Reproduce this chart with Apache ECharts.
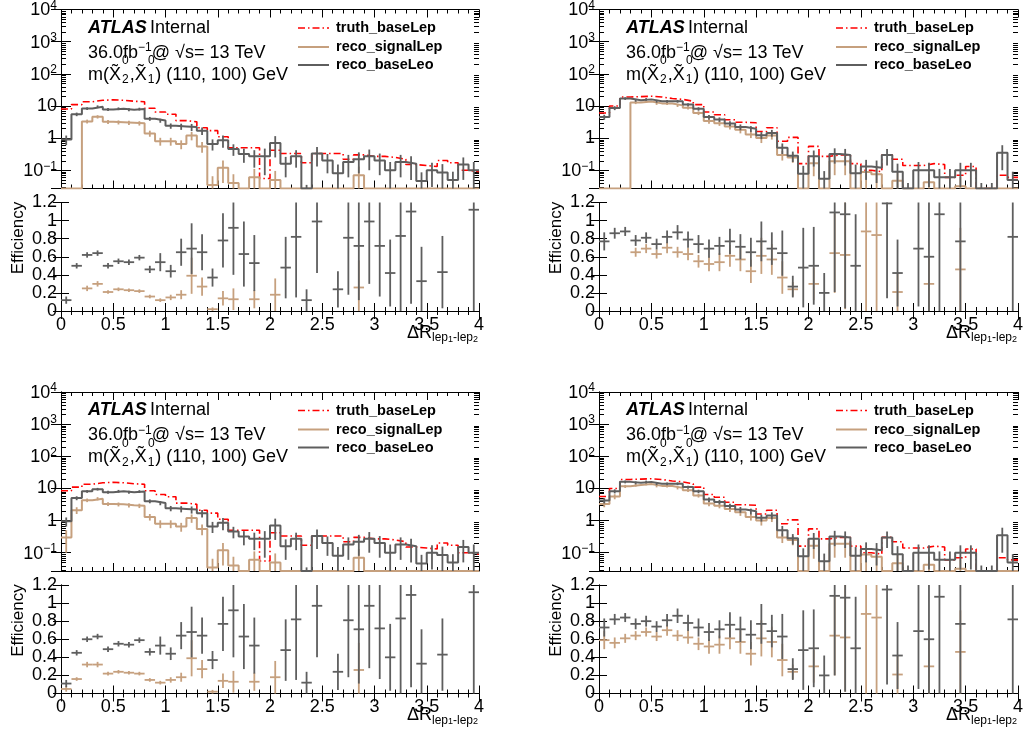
<!DOCTYPE html>
<html>
<head>
<meta charset="utf-8">
<script src="https://cdn.jsdelivr.net/npm/echarts@6/dist/echarts.min.js"></script>
<style>
  html, body { margin: 0; padding: 0; background: #ffffff; }
  #chart { width: 1023px; height: 741px; }
</style>
</head>
<body>
<div id="chart"></div>
<script>
// ---- binning: 40 bins of width 0.1 in dR(lep1, lep2) ----
const binEdges = [0, 0.1, 0.2, 0.3, 0.4, 0.5, 0.6, 0.7, 0.8, 0.9, 1, 1.1, 1.2, 1.3, 1.4, 1.5, 1.6, 1.7, 1.8, 1.9,
                  2, 2.1, 2.2, 2.3, 2.4, 2.5, 2.6, 2.7, 2.8, 2.9, 3, 3.1, 3.2, 3.3, 3.4, 3.5, 3.6, 3.7, 3.8, 3.9, 4];

const seriesNames = ['truth_baseLep', 'reco_signalLep', 'reco_baseLeo'];

// ---- panel A (top left) ----
const truthA = [8, 11, 13.5, 15, 15.5, 15, 14, 13.5, 8.5, 6.5, 5.5, 3.5, 3.2, 2.1, 1.7, 1.1, 0.5, 0.5, 0.5, 0.055,
                0.42, 0.33, 0.33, 0.17, 0.33, 0.33, 0.33, 0.22, 0.3, 0.27, 0.27, 0.25, 0.22, 0.15, 0.14, 0.13, 0.2, 0.17, 0.1, 0.09];
const sigA = [0, 0, 3.3, 4.6, 3.2, 3.1, 3, 2.9, 1.4, 0.8, 0.8, 0.65, 1.2, 0.55, 0.035, 0.12, 0.04, 0, 0.06, 0,
              0.05, 0, 0, 0, 0, 0, 0, 0, 0.07, 0, 0, 0, 0, 0, 0, 0, 0, 0, 0, 0];
const sigErrA = [0, 0, 0.45, 0.55, 0.45, 0.45, 0.45, 0.45, 0.3, 0.22, 0.22, 0.2, 0.35, 0.2, 0.03, 0.08, 0.035, 0, 0.05, 0,
                 0.045, 0, 0, 0, 0, 0, 0, 0, 0.06, 0, 0, 0, 0, 0, 0, 0, 0, 0, 0, 0];
const baseA = [0.9, 5.5, 8.3, 9.5, 7.8, 8.2, 7.6, 8, 4, 3.5, 2.4, 2.3, 2.2, 1.7, 0.66, 0.85, 0.46, 0.32, 0.27, 0.27,
               0.7, 0.16, 0.27, 0.02, 0.33, 0.2, 0.08, 0.18, 0.22, 0.27, 0.2, 0.1, 0.18, 0.16, 0.046, 0.1, 0.085, 0.05, 0.15, 0.1];
const baseErrA = [0.3, 0.7, 0.8, 0.9, 0.8, 0.8, 0.8, 0.8, 0.55, 0.5, 0.45, 0.5, 0.55, 0.45, 0.25, 0.35, 0.18, 0.15, 0.15, 0.2,
                  0.45, 0.1, 0.15, 0.015, 0.2, 0.12, 0.07, 0.12, 0.14, 0.17, 0.13, 0.08, 0.12, 0.11, 0.04, 0.07, 0.07, 0.04, 0.1, 0.08];
const effSigA = [null, null, 0.25, 0.3, 0.21, 0.24, 0.23, 0.22, 0.16, 0.12, 0.15, 0.18, 0.39, 0.27, 0.02, 0.14, 0.13, null, 0.13, null,
                 0.18, null, null, null, null, null, null, null, 0.26, null, null, null, null, null, null, null, null, null, null, null];
const effSigErrA = [0, 0, 0.03, 0.03, 0.02, 0.02, 0.02, 0.02, 0.02, 0.02, 0.03, 0.05, 0.2, 0.1, 0.02, 0.08, 0.12, 0, 0.1, 0,
                    0.18, 0, 0, 0, 0, 0, 0, 0, 0.3, 0, 0, 0, 0, 0, 0, 0, 0, 0, 0, 0];
const effBaseA = [0.12, 0.5, 0.62, 0.64, 0.5, 0.55, 0.54, 0.59, 0.46, 0.54, 0.44, 0.65, 0.69, 0.65, 0.37, 0.78, 0.92, 0.63, 0.53, null,
                  null, 0.48, 0.82, 0.12, 0.99, null, 0.24, 0.81, 0.72, 0.99, 0.72, 0.42, 0.83, 1.1, 0.33, null, 0.43, null, null, 1.12];
const effBaseErrA = [0.04, 0.03, 0.03, 0.03, 0.03, 0.03, 0.03, 0.03, 0.04, 0.1, 0.07, 0.15, 0.28, 0.2, 0.1, 0.3, 0.52, 0.36, 0.31, 0,
                     0, 0.34, 0.67, 0.12, 0.57, 0, 0.2, 0.63, 0.6, 0.69, 0.56, 0.37, 0.83, 1.02, 0.38, 0, 0.4, 0, 0, 1.12];

// ---- panel B (top right) ----
const truthB = [6, 10, 19, 19.5, 20, 19, 17, 16, 14, 11, 6.5, 5.3, 3.7, 3.1, 3, 1.6, 2.1, 0.8, 1.05, 0.16,
                0.55, 0.27, 0.3, 0.3, 0.16, 0.1, 0.09, 0.3, 0.22, 0.14, 0.14, 0.16, 0.15, 0.06, 0.07, 0.13, 0.025, 0.025, 0.07, 0.06];
const sigB = [0, 0, 0, 12.7, 13.8, 12, 11.9, 10.4, 8.8, 6, 3.4, 2.9, 2.3, 1.8, 1.3, 1, 1.2, 0.3, 0.25, 0,
              0.165, 0, 0.19, 0.19, 0, 0.088, 0.075, 0, 0.047, 0, 0, 0.042, 0, 0, 0.032, 0, 0, 0, 0, 0];
const sigErrB = [0, 0, 0, 1.3, 1.3, 1.2, 1.2, 1.1, 1, 0.8, 0.6, 0.5, 0.45, 0.4, 0.3, 0.3, 0.3, 0.1, 0.08, 0,
                 0.1, 0, 0.12, 0.12, 0, 0.07, 0.06, 0, 0.04, 0, 0, 0.035, 0, 0, 0.03, 0, 0, 0, 0, 0];
const baseB = [4.5, 8.6, 17, 15, 16, 14, 14, 14, 11, 8.1, 4.5, 3.8, 2.85, 2.2, 1.95, 1.23, 1.45, 0.5, 0.28, 0.077,
               0.27, 0.054, 0.32, 0.3, 0.08, 0.13, 0.12, 0.3, 0.09, 0.02, 0.1, 0.1, 0.06, 0.06, 0.1, 0.1, 0.02, 0.02, 0.35, 0.05];
const baseErrB = [0.8, 1.2, 1.6, 1.5, 1.5, 1.4, 1.4, 1.4, 1.2, 1, 0.7, 0.6, 0.5, 0.45, 0.4, 0.3, 0.35, 0.18, 0.1, 0.06,
                  0.14, 0.04, 0.16, 0.16, 0.07, 0.08, 0.08, 0.16, 0.07, 0.02, 0.08, 0.07, 0.05, 0.05, 0.07, 0.07, 0.02, 0.02, 0.25, 0.04];
const effSigB = [null, null, null, 0.65, 0.69, 0.63, 0.7, 0.65, 0.63, 0.55, 0.52, 0.54, 0.61, 0.57, 0.44, 0.61, 0.57, 0.37, 0.24, null,
                 0.3, null, 0.64, 0.62, null, 0.88, 0.84, null, 0.21, null, null, 0.3, null, null, 0.46, null, null, null, null, null];
const effSigErrB = [0, 0, 0, 0.05, 0.05, 0.05, 0.06, 0.06, 0.07, 0.07, 0.08, 0.1, 0.12, 0.13, 0.13, 0.2, 0.17, 0.18, 0.08, 0,
                    0.18, 0, 0.44, 0.6, 0, 0.9, 0.9, 0, 0.21, 0, 0, 0.3, 0, 0, 0.46, 0, 0, 0, 0, 0];
const effBaseB = [0.77, 0.86, 0.88, 0.78, 0.81, 0.74, 0.82, 0.87, 0.79, 0.74, 0.69, 0.72, 0.77, 0.71, 0.65, 0.77, 0.69, 0.64, 0.27, 0.48,
                  0.5, 0.2, 1.09, 1.07, 0.5, null, null, 1.19, 0.42, null, 0.69, 0.6, 1.07, null, 0.77, null, null, null, null, 0.82];
const effBaseErrB = [0.1, 0.06, 0.05, 0.06, 0.06, 0.06, 0.07, 0.08, 0.09, 0.1, 0.1, 0.1, 0.14, 0.14, 0.16, 0.22, 0.18, 0.25, 0.12, 0.44,
                     0.43, 0.22, 0.88, 1.04, 0.57, 0, 0, 1.05, 0.37, 0, 0.64, 0.6, 1.07, 0, 0.8, 0, 0, 0, 0, 0.82];

// ---- panel C (bottom left) ----
const truthC = [8.5, 11, 13.5, 15, 15.5, 15, 14, 13.5, 8.5, 6.5, 5.5, 3.5, 3.2, 2.1, 1.7, 1.1, 0.5, 0.5, 0.5, 0.055,
                0.42, 0.33, 0.33, 0.17, 0.33, 0.33, 0.33, 0.22, 0.3, 0.27, 0.27, 0.25, 0.22, 0.15, 0.14, 0.13, 0.2, 0.17, 0.1, 0.09];
const sigC = [0.3, 2.1, 4.3, 4.8, 3.3, 3.2, 3, 2.9, 1.3, 0.8, 0.8, 0.65, 1.2, 0.55, 0.035, 0.12, 0.04, 0, 0.06, 0,
              0.05, 0, 0, 0, 0, 0, 0, 0, 0.07, 0, 0, 0, 0, 0, 0, 0, 0, 0, 0, 0];
const sigErrC = [0.2, 0.5, 0.55, 0.55, 0.45, 0.45, 0.45, 0.45, 0.3, 0.22, 0.22, 0.2, 0.35, 0.2, 0.03, 0.08, 0.035, 0, 0.05, 0,
                 0.045, 0, 0, 0, 0, 0, 0, 0, 0.06, 0, 0, 0, 0, 0, 0, 0, 0, 0, 0, 0];
const baseC = [0.95, 5, 8.1, 9.5, 7.6, 8.2, 7.6, 8, 4, 3.5, 2.4, 2.3, 2.2, 1.7, 0.66, 0.85, 0.46, 0.32, 0.27, 0.27,
               0.7, 0.16, 0.27, 0.02, 0.33, 0.2, 0.08, 0.18, 0.22, 0.27, 0.2, 0.1, 0.18, 0.16, 0.046, 0.1, 0.085, 0.05, 0.15, 0.1];
const baseErrC = [0.3, 0.7, 0.8, 0.9, 0.8, 0.8, 0.8, 0.8, 0.55, 0.5, 0.45, 0.5, 0.55, 0.45, 0.25, 0.35, 0.18, 0.15, 0.15, 0.2,
                  0.45, 0.1, 0.15, 0.015, 0.2, 0.12, 0.07, 0.12, 0.14, 0.17, 0.13, 0.08, 0.12, 0.11, 0.04, 0.07, 0.07, 0.04, 0.1, 0.08];
const effSigC = [0.05, 0.16, 0.32, 0.32, 0.22, 0.24, 0.23, 0.22, 0.15, 0.12, 0.15, 0.18, 0.39, 0.27, 0.02, 0.14, 0.13, null, 0.13, null,
                 0.18, null, null, null, null, null, null, null, 0.26, null, null, null, null, null, null, null, null, null, null, null];
const effSigErrC = [0.03, 0.02, 0.03, 0.03, 0.02, 0.02, 0.02, 0.02, 0.02, 0.02, 0.03, 0.05, 0.2, 0.1, 0.02, 0.08, 0.12, 0, 0.1, 0,
                    0.18, 0, 0, 0, 0, 0, 0, 0, 0.3, 0, 0, 0, 0, 0, 0, 0, 0, 0, 0, 0];
const effBaseC = [0.11, 0.45, 0.6, 0.63, 0.49, 0.55, 0.54, 0.59, 0.46, 0.53, 0.44, 0.64, 0.68, 0.64, 0.37, 0.77, 0.92, 0.63, 0.53, null,
                  null, 0.48, 0.82, 0.12, 0.97, null, 0.24, 0.81, 0.71, 0.97, 0.72, 0.4, 0.83, 1.09, 0.33, null, 0.43, null, null, 1.12];
const effBaseErrC = [0.04, 0.03, 0.03, 0.03, 0.03, 0.03, 0.03, 0.03, 0.04, 0.1, 0.07, 0.15, 0.28, 0.2, 0.1, 0.3, 0.52, 0.36, 0.31, 0,
                     0, 0.34, 0.67, 0.12, 0.57, 0, 0.2, 0.63, 0.6, 0.69, 0.56, 0.37, 0.83, 1.02, 0.38, 0, 0.4, 0, 0, 1.12];

// ---- panel D (bottom right) ----
const truthD = [5.6, 10, 19, 19.5, 20, 19, 17, 16, 14, 11, 6.5, 5.3, 3.7, 3.1, 3, 1.6, 2.1, 0.8, 1.05, 0.16,
                0.55, 0.27, 0.3, 0.3, 0.16, 0.1, 0.09, 0.3, 0.22, 0.14, 0.14, 0.16, 0.15, 0.06, 0.07, 0.13, 0.025, 0.025, 0.07, 0.06];
const sigD = [3.3, 5.6, 11.6, 12.7, 13.8, 12, 11.9, 10.4, 8.8, 6, 3.4, 2.9, 2.3, 1.8, 1.3, 1, 1.2, 0.3, 0.25, 0,
              0.165, 0, 0.19, 0.19, 0, 0.088, 0.075, 0, 0.047, 0, 0, 0.042, 0, 0, 0.032, 0, 0, 0, 0, 0];
const sigErrD = [0.7, 1, 1.3, 1.3, 1.3, 1.2, 1.2, 1.1, 1, 0.8, 0.6, 0.5, 0.45, 0.4, 0.3, 0.3, 0.3, 0.1, 0.08, 0,
                 0.1, 0, 0.12, 0.12, 0, 0.07, 0.06, 0, 0.04, 0, 0, 0.035, 0, 0, 0.03, 0, 0, 0, 0, 0];
const baseD = [4.2, 8.2, 16, 15, 16, 14, 14, 14, 11, 8.1, 4.5, 3.8, 2.85, 2.2, 1.95, 1.23, 1.45, 0.5, 0.28, 0.077,
               0.27, 0.054, 0.32, 0.3, 0.08, 0.13, 0.12, 0.3, 0.09, 0.02, 0.1, 0.1, 0.06, 0.06, 0.1, 0.1, 0.02, 0.02, 0.35, 0.05];
const baseErrD = [0.8, 1.2, 1.6, 1.5, 1.5, 1.4, 1.4, 1.4, 1.2, 1, 0.7, 0.6, 0.5, 0.45, 0.4, 0.3, 0.35, 0.18, 0.1, 0.06,
                  0.14, 0.04, 0.16, 0.16, 0.07, 0.08, 0.08, 0.16, 0.07, 0.02, 0.08, 0.07, 0.05, 0.05, 0.07, 0.07, 0.02, 0.02, 0.25, 0.04];
const effSigD = [0.59, 0.56, 0.61, 0.64, 0.68, 0.63, 0.7, 0.64, 0.62, 0.55, 0.52, 0.54, 0.61, 0.57, 0.44, 0.61, 0.57, 0.37, 0.24, null,
                 0.3, null, 0.64, 0.62, null, 0.88, 0.84, null, 0.21, null, null, 0.3, null, null, 0.46, null, null, null, null, null];
const effSigErrD = [0.1, 0.06, 0.05, 0.05, 0.05, 0.05, 0.06, 0.06, 0.07, 0.07, 0.08, 0.1, 0.12, 0.13, 0.13, 0.2, 0.17, 0.18, 0.08, 0,
                    0.18, 0, 0.44, 0.6, 0, 0.9, 0.9, 0, 0.21, 0, 0, 0.3, 0, 0, 0.46, 0, 0, 0, 0, 0];
const effBaseD = [0.73, 0.82, 0.84, 0.77, 0.8, 0.74, 0.81, 0.86, 0.78, 0.73, 0.68, 0.71, 0.76, 0.71, 0.65, 0.77, 0.69, 0.63, 0.27, 0.48,
                  0.5, 0.2, 1.08, 1.06, 0.5, null, null, 1.15, 0.42, null, 0.69, 0.6, 1.07, null, 0.77, null, null, null, null, 0.82];
const effBaseErrD = [0.1, 0.06, 0.05, 0.06, 0.06, 0.06, 0.07, 0.08, 0.09, 0.1, 0.1, 0.1, 0.14, 0.14, 0.16, 0.22, 0.18, 0.25, 0.12, 0.44,
                     0.43, 0.22, 0.88, 1.04, 0.57, 0, 0, 1.05, 0.37, 0, 0.64, 0.6, 1.07, 0, 0.8, 0, 0, 0, 0, 0.82];

// ---- axis decoration ----
const logDecades = [0.01, 0.1, 1, 10, 100, 1000];
const logMinorSteps = [2, 3, 4, 5, 6, 7, 8, 9];

// ---- styling ----
const FONT = '"Liberation Sans", Arial, Helvetica, sans-serif';
const RED = '#ff0000';
const TAN = '#c6a07e';
const GREY = '#5e5e5e';
const Y_MIN = 0.027, Y_MAX = 10000;

const panels = [
  { col: 0, row: 0, truth: truthA, sig: sigA, sigErr: sigErrA, base: baseA, baseErr: baseErrA,
    effSig: effSigA, effSigErr: effSigErrA, effBase: effBaseA, effBaseErr: effBaseErrA },
  { col: 1, row: 0, truth: truthB, sig: sigB, sigErr: sigErrB, base: baseB, baseErr: baseErrB,
    effSig: effSigB, effSigErr: effSigErrB, effBase: effBaseB, effBaseErr: effBaseErrB },
  { col: 0, row: 1, truth: truthC, sig: sigC, sigErr: sigErrC, base: baseC, baseErr: baseErrC,
    effSig: effSigC, effSigErr: effSigErrC, effBase: effBaseC, effBaseErr: effBaseErrC },
  { col: 1, row: 1, truth: truthD, sig: sigD, sigErr: sigErrD, base: baseD, baseErr: baseErrD,
    effSig: effSigD, effSigErr: effSigErrD, effBase: effBaseD, effBaseErr: effBaseErrD }
];

// frame geometry of the pads
const colLeft = [61, 599];
const colWidth = [418, 419];
const histTop = [9.5, 392];
const histHeight = 179;
const effTop = [202.5, 585];
const effHeight = 108.5;

const binCentres = binEdges.slice(0, -1).map((e, i) => (e + binEdges[i + 1]) / 2);
const halfBin = (binEdges[1] - binEdges[0]) / 2;

const logMinorTicks = [];
logDecades.forEach(d => logMinorSteps.forEach(k => {
  const v = d * k;
  if (v > Y_MIN && v < Y_MAX) logMinorTicks.push([0, v]);
}));

const floorLog = v => (v > Y_MIN ? v : Y_MIN);

function stepData(vals) {
  return binEdges.map((x, i) => [x, floorLog(vals[Math.min(i, vals.length - 1)])]);
}

function powLabel(v) {
  const n = Math.round(Math.log10(v));
  if (n === 0) return '1';
  if (n === 1) return '10';
  return '{b|10}{sup|' + (n < 0 ? '\u2212' + (-n) : n) + '}';
}

function clampY(cs, y) { return Math.max(cs.y, Math.min(cs.y + cs.height, y)); }

// vertical error bars on a log-scale histogram
function histErrRenderer(color) {
  return function (params, api) {
    const x = api.value(0), v = api.value(1), e = api.value(2);
    const cs = params.coordSys;
    const hi = api.coord([x, floorLog(v + e)]);
    const lo = api.coord([x, floorLog(v - e)]);
    return {
      type: 'line',
      shape: { x1: hi[0], y1: clampY(cs, hi[1]), x2: hi[0], y2: clampY(cs, lo[1]) },
      style: { stroke: color, lineWidth: 1.8 }
    };
  };
}

// efficiency points: bin-width horizontal bar + vertical uncertainty
function crossRenderer(color) {
  return function (params, api) {
    const x = api.value(0), v = api.value(1), e = api.value(2);
    const cs = params.coordSys;
    const c = api.coord([x, v]);
    const l = api.coord([x - halfBin, v]);
    const r = api.coord([x + halfBin, v]);
    const u = api.coord([x, v + e]);
    const d = api.coord([x, v - e]);
    const kids = [];
    if (c[1] >= cs.y - 0.5 && c[1] <= cs.y + cs.height + 0.5) {
      kids.push({ type: 'line', shape: { x1: l[0], y1: c[1], x2: r[0], y2: c[1] },
                  style: { stroke: color, lineWidth: 1.8 } });
    }
    if (e > 0) {
      kids.push({ type: 'line', shape: { x1: c[0], y1: clampY(cs, u[1]), x2: c[0], y2: clampY(cs, d[1]) },
                  style: { stroke: color, lineWidth: 1.8 } });
    }
    return { type: 'group', children: kids };
  };
}

// short minor ticks of the log axis on both frame sides
function logMinorRenderer(params, api) {
  const cs = params.coordSys;
  const p = api.coord([0, api.value(1)]);
  const y = Math.round(p[1]) + 0.5;
  return {
    type: 'group',
    children: [
      { type: 'line', shape: { x1: cs.x, y1: y, x2: cs.x + 5, y2: y }, style: { stroke: '#000', lineWidth: 1 } },
      { type: 'line', shape: { x1: cs.x + cs.width - 5, y1: y, x2: cs.x + cs.width, y2: y }, style: { stroke: '#000', lineWidth: 1 } }
    ]
  };
}

const grids = [], xAxes = [], yAxes = [], series = [], graphics = [];
const axisLineStyle = { show: true, lineStyle: { color: '#000', width: 1 } };
const labelStyle = { color: '#000', fontFamily: FONT, fontSize: 18 };

function addXAxes(gridIndex, withLabels) {
  const base = {
    type: 'value', gridIndex, min: 0, max: 4, interval: 0.5,
    axisLine: axisLineStyle,
    axisTick: { show: true, inside: true, length: 8, lineStyle: { color: '#000', width: 1 } },
    minorTick: { show: true, splitNumber: 5, length: 4, lineStyle: { color: '#000', width: 1 } },
    splitLine: { show: false }, minorSplitLine: { show: false }
  };
  const bottomIdx = xAxes.length;
  xAxes.push(Object.assign({}, base, {
    position: 'bottom',
    axisLabel: withLabels ? Object.assign({ show: true, margin: 5 }, labelStyle) : { show: false }
  }));
  xAxes.push(Object.assign({}, base, { position: 'top', axisLabel: { show: false } }));
  return bottomIdx;
}

panels.forEach((p, k) => {
  const left = colLeft[p.col], width = colWidth[p.col];
  const dx = left - colLeft[0];
  const dy = histTop[p.row] - histTop[0];

  // --- histogram pad ---
  const gH = grids.length;
  grids.push({ left, top: histTop[p.row], width, height: histHeight, containLabel: false, outerBoundsMode: 'none' });
  const xH = addXAxes(gH, false);
  const yH = yAxes.length;
  yAxes.push({
    type: 'log', logBase: 10, gridIndex: gH, min: Y_MIN, max: Y_MAX, position: 'left',
    axisLine: axisLineStyle,
    axisTick: { show: true, inside: true, length: 10, lineStyle: { color: '#000', width: 1 } },
    axisLabel: Object.assign({
      show: true, margin: 4, showMinLabel: false, formatter: powLabel,
      rich: {
        b: { fontSize: 18, fontFamily: FONT, color: '#000', lineHeight: 20, verticalAlign: 'bottom', padding: [4, 0, 0, 0] },
        sup: { fontSize: 12, fontFamily: FONT, color: '#000', verticalAlign: 'top', lineHeight: 12 }
      }
    }, labelStyle),
    splitLine: { show: false }
  });
  yAxes.push({
    type: 'log', logBase: 10, gridIndex: gH, min: Y_MIN, max: Y_MAX, position: 'right',
    axisLine: axisLineStyle,
    axisTick: { show: true, inside: true, length: 10, lineStyle: { color: '#000', width: 1 } },
    axisLabel: { show: false }, splitLine: { show: false }
  });

  series.push({
    type: 'custom', xAxisIndex: xH, yAxisIndex: yH, silent: true, z: 1,
    data: logMinorTicks, renderItem: logMinorRenderer
  });

  const histStyles = [
    { vals: p.truth, color: RED, width: 1.6, type: [7, 3, 1.5, 3] },
    { vals: p.sig, color: TAN, width: 2, type: 'solid' },
    { vals: p.base, color: GREY, width: 2, type: 'solid' }
  ];
  histStyles.forEach((h, i) => {
    series.push({
      type: 'line', name: seriesNames[i], xAxisIndex: xH, yAxisIndex: yH,
      step: 'end', symbol: 'none', clip: true, silent: true, z: 2 + i,
      data: stepData(h.vals),
      lineStyle: { color: h.color, width: h.width, type: h.type }
    });
  });

  const errSets = [
    { vals: p.sig, errs: p.sigErr, color: TAN, z: 3 },
    { vals: p.base, errs: p.baseErr, color: GREY, z: 4 }
  ];
  errSets.forEach(s => {
    series.push({
      type: 'custom', xAxisIndex: xH, yAxisIndex: yH, silent: true, z: s.z,
      data: s.vals.map((v, i) => [binCentres[i], v, s.errs[i]]).filter(d => d[1] > 0 && d[2] > 0),
      renderItem: histErrRenderer(s.color)
    });
  });

  // --- efficiency pad ---
  const gE = grids.length;
  grids.push({ left, top: effTop[p.row], width, height: effHeight, containLabel: false, outerBoundsMode: 'none' });
  const xE = addXAxes(gE, true);
  const yE = yAxes.length;
  const effAxisBase = {
    type: 'value', gridIndex: gE, min: 0, max: 1.2, interval: 0.2,
    axisLine: axisLineStyle,
    axisTick: { show: true, inside: true, length: 8, lineStyle: { color: '#000', width: 1 } },
    splitLine: { show: false }
  };
  yAxes.push(Object.assign({}, effAxisBase, {
    position: 'left', axisLabel: Object.assign({ show: true, margin: 4 }, labelStyle)
  }));
  yAxes.push(Object.assign({}, effAxisBase, { position: 'right', axisLabel: { show: false } }));

  const effSets = [
    { vals: p.effSig, errs: p.effSigErr, color: TAN, z: 3 },
    { vals: p.effBase, errs: p.effBaseErr, color: GREY, z: 4 }
  ];
  effSets.forEach(s => {
    series.push({
      type: 'custom', xAxisIndex: xE, yAxisIndex: yE, silent: true, z: s.z,
      data: s.vals.map((v, i) => [binCentres[i], v, s.errs[i]]).filter(d => d[1] !== null),
      renderItem: crossRenderer(s.color)
    });
  });

  // --- texts of the pad ---
  const tx = 88 + dx;
  graphics.push({
    type: 'text', x: tx, y: 28 + dy, silent: true,
    style: {
      text: '{b|ATLAS} {n|Internal}', textVerticalAlign: 'middle',
      rich: {
        b: { fontFamily: FONT, fontSize: 18, fontWeight: 'bold', fontStyle: 'italic', fill: '#000' },
        n: { fontFamily: FONT, fontSize: 18, fill: '#000' }
      }
    }
  });
  graphics.push({
    type: 'text', x: tx, y: 52 + dy, silent: true,
    style: {
      text: '{n|36.0fb}{s|\u22121}{n|@ \u221As= 13 TeV}', textVerticalAlign: 'middle',
      rich: {
        n: { fontFamily: FONT, fontSize: 18, fill: '#000', lineHeight: 20, verticalAlign: 'bottom' },
        s: { fontFamily: FONT, fontSize: 12, fill: '#000', lineHeight: 12, verticalAlign: 'top', padding: [0, 0, 6, 0] }
      }
    }
  });
  graphics.push({
    type: 'text', x: tx, y: 75 + dy, silent: true,
    style: {
      text: '{n|m(X\u0303}{b|2}{n|,X\u0303}{b|1}{n|) (110, 100) GeV}', textVerticalAlign: 'middle',
      rich: {
        n: { fontFamily: FONT, fontSize: 18, fill: '#000', lineHeight: 22 },
        b: { fontFamily: FONT, fontSize: 12, fill: '#000', lineHeight: 12, verticalAlign: 'bottom', padding: [6, 1, 0, 1] }
      }
    }
  });
  [122, 148].forEach(sx => {
    graphics.push({
      type: 'text', x: sx + dx, y: 61 + dy, silent: true,
      style: { text: '0', fontFamily: FONT, fontSize: 12, fill: '#000', textVerticalAlign: 'middle' }
    });
  });

  // legend
  const legendRows = [28, 47, 65];
  const legendStyles = [
    { color: RED, width: 1.6, dash: [7, 3, 1.5, 3] },
    { color: TAN, width: 2, dash: null },
    { color: GREY, width: 2, dash: null }
  ];
  legendRows.forEach((ly, i) => {
    graphics.push({
      type: 'line', silent: true,
      shape: { x1: 298 + dx, y1: ly + dy, x2: 329 + dx, y2: ly + dy },
      style: { stroke: legendStyles[i].color, lineWidth: legendStyles[i].width, lineDash: legendStyles[i].dash }
    });
    graphics.push({
      type: 'text', x: 336 + dx, y: ly + dy, silent: true,
      style: { text: seriesNames[i], fontFamily: FONT, fontSize: 14.5, fontWeight: 'bold', fill: '#000', textVerticalAlign: 'middle' }
    });
  });

  // axis titles
  const edy = effTop[p.row] - effTop[0];
  graphics.push({
    type: 'text', x: 18 + dx, y: 238 + edy, rotation: Math.PI / 2, silent: true,
    style: { text: 'Efficiency', fontFamily: FONT, fontSize: 17, fill: '#000', textAlign: 'center', textVerticalAlign: 'middle' }
  });
  graphics.push({
    type: 'text', x: left + width - 1, y: 334 + edy, silent: true,
    style: {
      text: '{n|\u0394R}{s|lep}{t|1}{s|-lep}{t|2}', textAlign: 'right', textVerticalAlign: 'middle',
      rich: {
        n: { fontFamily: FONT, fontSize: 18, fill: '#000', lineHeight: 20, verticalAlign: 'top' },
        s: { fontFamily: FONT, fontSize: 12, fill: '#000', lineHeight: 12, verticalAlign: 'bottom', padding: [6, 0, 0, 0] },
        t: { fontFamily: FONT, fontSize: 9, fill: '#000', lineHeight: 9, verticalAlign: 'bottom', padding: [8, 0, 0, 0] }
      }
    }
  });
});

const chart = echarts.init(document.getElementById('chart'), null, { renderer: 'canvas' });
chart.setOption({
  animation: false,
  backgroundColor: '#ffffff',
  textStyle: { fontFamily: FONT, color: '#000' },
  grid: grids,
  xAxis: xAxes,
  yAxis: yAxes,
  series: series,
  graphic: graphics
});
</script>
</body>
</html>
